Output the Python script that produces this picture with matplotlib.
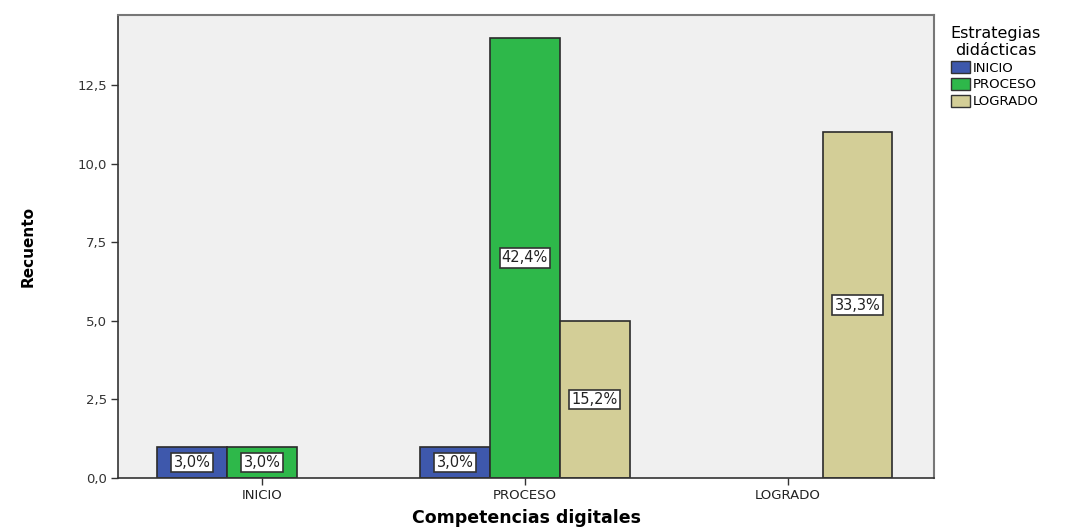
"""
Competencias digitales vs Estrategias didacticas (bar counts, SPSS style)
"""

import matplotlib
matplotlib.use("Agg")
import matplotlib.pyplot as plt
import numpy as np
from matplotlib.patches import Patch

categories = ["INICIO", "PROCESO", "LOGRADO"]
series = ["INICIO", "PROCESO", "LOGRADO"]
counts = {
    "INICIO": [1, 1, 0],
    "PROCESO": [1, 14, 5],
    "LOGRADO": [0, 0, 11],
}
pct_labels = {
    "INICIO": ["3,0%", "3,0%", None],
    "PROCESO": ["3,0%", "42,4%", "15,2%"],
    "LOGRADO": [None, None, "33,3%"],
}
colors = ["#3E58AC", "#2EB84A", "#D3CE97"]
yticks = [0, 2.5, 5, 7.5, 10, 12.5]
ytick_labels = ["0,0", "2,5", "5,0", "7,5", "10,0", "12,5"]

fig = plt.figure(figsize=(10.84, 5.28), dpi=100)
ax = fig.add_axes([118 / 1084, 50 / 528, (934 - 118) / 1084, (478 - 15) / 528])
ax.set_facecolor("#F0F0F0")

x = np.arange(len(categories))
width = 0.266
for i, cat in enumerate(categories):
    for j, val in enumerate(counts[cat]):
        if val == 0:
            continue
        xpos = x[i] + (j - 1) * width
        ax.bar(xpos, val, width=width, color=colors[j], edgecolor="#2b2b2b",
               linewidth=1.2, zorder=2)
        lab = pct_labels[cat][j]
        if lab:
            ax.text(xpos, val / 2, lab, ha="center", va="center", fontsize=10.5,
                    family="DejaVu Sans", color="#222222", zorder=3,
                    bbox=dict(boxstyle="square,pad=0.15", facecolor="white",
                              edgecolor="#333333", linewidth=1.2))

ax.set_xlim(-0.548, 2.557)
ax.set_ylim(0, 14.73)
ax.set_xticks(x)
ax.set_xticklabels(categories, fontsize=9.5, family="DejaVu Sans", color="#222222")
ax.set_yticks(yticks)
ax.set_yticklabels(ytick_labels, fontsize=9.5, family="DejaVu Sans", color="#333333")
ax.tick_params(axis="both", direction="out", length=5, width=1, color="#333333", pad=3)

for side in ["left", "bottom"]:
    ax.spines[side].set_color("#333333")
    ax.spines[side].set_linewidth(1.2)
for side in ["top", "right"]:
    ax.spines[side].set_color("#777777")
    ax.spines[side].set_linewidth(1.5)

ax.set_ylabel("Recuento", fontsize=11, fontweight="bold",
              family=["Liberation Sans Narrow", "DejaVu Sans"], labelpad=30)
ax.set_xlabel("Competencias digitales", fontsize=12.5, fontweight="bold",
              family="DejaVu Sans", labelpad=5)

handles = [Patch(facecolor=c, edgecolor="#333333", linewidth=1) for c in colors]
leg = fig.legend(handles, series, title="Estrategias\ndidácticas",
                 loc="upper left", bbox_to_anchor=(944 / 1084, 509 / 528),
                 frameon=False, handlelength=1.5, handleheight=1.0,
                 handletextpad=0.15, labelspacing=0.25, borderpad=0,
                 title_fontsize=11.5, prop={"family": "DejaVu Sans", "size": 9.5})
leg.get_title().set_family("DejaVu Sans")
leg.get_title().set_multialignment("center")
leg._legend_box.align = "left"

fig.savefig("out.png", dpi=100)
